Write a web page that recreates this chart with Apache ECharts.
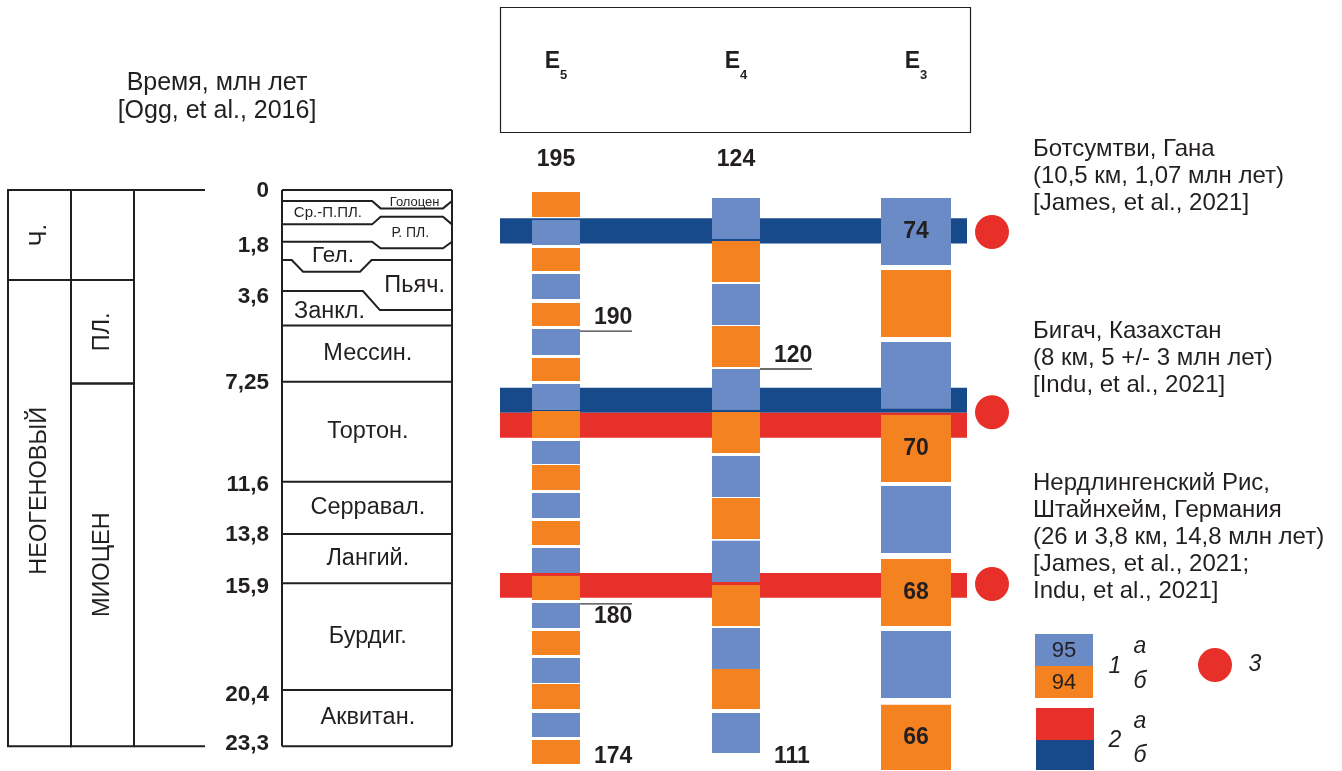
<!DOCTYPE html>
<html lang="ru">
<head>
<meta charset="utf-8">
<title>Хроны E3–E5 и импактные события неогена</title>
<script src="https://cdn.jsdelivr.net/npm/echarts@6.0.0/dist/echarts.min.js"></script>
<style>
  html, body { margin: 0; background: #fff; }
  #chart { width: 1342px; height: 771px; }
</style>
</head>
<body>
<div id="chart"></div>
<script>
// Вертикальная шкала схемы: 0 = кровля (сегодня), 23,3 = подошва аквитана.
// Схема нелинейна по возрасту, поэтому все значения сняты в масштабе рисунка.

// метки возраста, млн лет
const ageTicks = ['0', '1,8', '3,6', '7,25', '11,6', '13,8', '15,9', '20,4', '23,3'];
const ageTickAt = [0.04, 2.33, 4.48, 8.06, 12.34, 14.43, 16.63, 21.14, 23.21];

// системы и отделы
const systemNames = ['Ч.', 'НЕОГЕНОВЫЙ'];
const systemBounds = [0, 3.77, 23.3];
const systemLabelAt = [1.89, 12.6];
const seriesNames = ['', 'ПЛ.', 'МИОЦЕН'];
const seriesBounds = [0, 3.77, 8.11, 23.3];
const seriesLabelAt = [1.89, 5.94, 15.7];

// ярусы: кровля каждого + подошва последнего; stageBends - где граница огибает мелкую подпись
const stageNames = ['Голоцен', 'Ср.-П.ПЛ.', 'Р. ПЛ.', 'Гел.', 'Пьяч.', 'Занкл.', 'Мессин.',
  'Тортон.', 'Серравал.', 'Лангий.', 'Бурдиг.', 'Аквитан.'];
const stageBounds = [0, 0.46, 1.44, 2.17, 2.93, 4.23, 5.68, 8.03, 12.22, 14.41, 16.48, 20.95, 23.3];
const stageBends = [null, 0.77, 1.12, 2.44, 3.42, 5.03, null, null, null, null, null, null, null];
const stageLabelAt = [0.5, 0.96, 1.8, 2.76, 4.02, 5.11, 6.86, 10.13, 13.3, 15.45, 18.7, 22.1];

// хроны в колонках E5, E4, E3 (a - 1а, b - 1б)
const columns = ['E5', 'E4', 'E3'];
const e5From = [0.08, 1.26, 2.43, 3.52, 4.73, 5.82, 7.04, 8.13, 9.26, 10.52, 11.52, 12.69, 13.87,
  15.0, 16.17, 17.3, 18.48, 19.61, 20.7, 21.91, 23.04];
const e5To = [1.13, 2.3, 3.39, 4.57, 5.7, 6.91, 8.0, 9.22, 10.39, 11.48, 12.57, 13.74, 14.87,
  16.05, 17.18, 18.35, 19.48, 20.66, 21.74, 22.92, 24.05];
const e5Kind = 'babababababababababab'.split('');
const e4From = [0.34, 2.14, 3.94, 5.7, 7.5, 9.3, 11.14, 12.9, 14.7, 16.55, 18.35, 20.07, 21.91];
const e4To = [2.05, 3.85, 5.66, 7.42, 9.22, 11.02, 12.86, 14.62, 16.42, 18.27, 20.07, 21.74, 23.59];
const e4Kind = 'ababababababa'.split('');
const e3From = [0.34, 3.35, 6.37, 9.43, 12.4, 15.46, 18.48, 21.57];
const e3To = [3.14, 6.16, 9.17, 12.23, 15.21, 18.27, 21.28, 24.3];
const e3Kind = 'abababab'.split('');
const e3Chrons = ['74', '', '', '70', '', '68', '', '66'];

// номера хронов у колонок
const markText = ['195', '124', '190', '120', '180', '174', '111'];
const markCol = [0, 1, 0, 1, 0, 0, 1];
const markAt = [-1.26, -1.26, 5.91, 7.5, 17.34, 23.75, 23.75];
const markSide = ['top', 'top', 'above', 'above', 'below', 'right', 'right'];

// импактные события (a - 2а, b - 2б) и кратеры (3)
const bandFrom = [1.18, 8.29, 9.33, 16.05];
const bandTo = [2.24, 9.33, 10.38, 17.08];
const bandKind = ['b', 'b', 'a', 'a'];
const craterAt = [1.76, 9.31, 16.51];
const craterText = [
  'Ботсумтви, Гана\n(10,5 км, 1,07 млн лет)\n[James, et al., 2021]',
  'Бигач, Казахстан\n(8 км, 5 +/- 3 млн лет)\n[Indu, et al., 2021]',
  'Нердлингенский Рис,\nШтайнхейм, Германия\n(26 и 3,8 км, 14,8 млн лет)\n[James, et al., 2021;\nIndu, et al., 2021]'
];

const fontFamily = '"Liberation Sans", Arial, Helvetica, sans-serif';
const ink = '#231f20';
const chronColour = { a: '#6b8bc6', b: '#f58220' };
const bandColour = { a: '#e8302a', b: '#174a8b' };
const colWidth = [48, 48, 70];
const font = (size, weight) => (weight || 'normal') + ' ' + size + 'px ' + fontFamily;

// ячейки таблицы систем/отделов
const rankCells = [];
systemNames.forEach((n, i) => rankCells.push({ name: n, value: [0, systemBounds[i], systemBounds[i + 1], systemLabelAt[i]] }));
seriesNames.forEach((n, i) => rankCells.push({ name: n, value: [1, seriesBounds[i], seriesBounds[i + 1], seriesLabelAt[i]] }));

const chronBars = [];
[[e5From, e5To, e5Kind, []], [e4From, e4To, e4Kind, []], [e3From, e3To, e3Kind, e3Chrons]].forEach((c, ci) => {
  c[0].forEach((f, i) => chronBars.push({ value: [ci, f, c[1][i]], kind: c[2][i], label: c[3][i] || '' }));
});

function renderRank(params, api) {
  const cell = rankCells[params.dataIndex];
  const [col, from, to, at] = cell.value;
  const p0 = api.coord([col, from]);
  const p1 = api.coord([col, to]);
  const w = api.size([1, 0])[0];
  const x = p0[0] - w / 2;
  const children = [{
    type: 'rect', shape: { x: x, y: p0[1], width: w, height: p1[1] - p0[1] },
    style: { fill: null, stroke: ink, lineWidth: 2 }
  }];
  if (cell.name) {
    children.push({
      type: 'text', x: p0[0], y: api.coord([col, at])[1], rotation: Math.PI / 2,
      style: { text: cell.name, x: 0, y: 0, align: 'center', verticalAlign: 'middle', font: font(23.5), fill: ink }
    });
  }
  // верх и низ таблицы продолжаются за последнюю колонку
  if (col === 1 && from === 0) {
    children.push({ type: 'line', shape: { x1: x + w, y1: p0[1], x2: x + w + 71, y2: p0[1] }, style: { stroke: ink, lineWidth: 2 } });
  }
  if (col === 1 && to === 23.3) {
    children.push({ type: 'line', shape: { x1: x + w, y1: p1[1], x2: x + w + 71, y2: p1[1] }, style: { stroke: ink, lineWidth: 2 } });
  }
  return { type: 'group', children };
}

const bendShape = { 1: 'right', 2: 'right', 3: 'right', 4: 'left', 5: 'step' };
const stageLabelStyle = {
  0: { fx: 0.78, size: 13 }, 1: { fx: 0.27, size: 15 }, 2: { fx: 0.755, size: 14 },
  3: { fx: 0.3, size: 22.5 }, 4: { fx: 0.78, size: 23.5 }, 5: { fx: 0.28, size: 23.5 }
};

function boundary(i, x0, w, api) {
  const yE = api.coord([0, stageBounds[i]])[1];
  const p = (f, y) => [x0 + f * w, y];
  if (stageBends[i] == null) return [p(0, yE), p(1, yE)];
  const yB = api.coord([0, stageBends[i]])[1];
  if (bendShape[i] === 'right') return [p(0, yE), p(0.53, yE), p(0.58, yB), p(0.947, yB), p(1, yE)];
  if (bendShape[i] === 'left') return [p(0, yE), p(0.057, yE), p(0.124, yB), p(0.459, yB), p(0.527, yE), p(1, yE)];
  return [p(0, yE), p(0.476, yE), p(0.576, yB), p(1, yB)];
}

function renderStage(params, api) {
  const i = params.dataIndex;
  const c = api.coord([0, stageBounds[i]]);
  const w = api.size([1, 0])[0];
  const x0 = c[0] - w / 2;
  const line = { stroke: ink, lineWidth: 2, fill: null };
  const ls = stageLabelStyle[i] || { fx: 0.505, size: 23.5 };
  const children = [
    { type: 'polyline', shape: { points: boundary(i, x0, w, api) }, style: line },
    {
      type: 'text',
      style: {
        text: stageNames[i], x: x0 + ls.fx * w, y: api.coord([0, stageLabelAt[i]])[1],
        align: 'center', verticalAlign: 'middle', font: font(ls.size), fill: ink
      }
    }
  ];
  if (i === stageNames.length - 1) {
    const yTop = api.coord([0, 0])[1];
    const yBase = api.coord([0, stageBounds[i + 1]])[1];
    children.push({ type: 'polyline', shape: { points: boundary(i + 1, x0, w, api) }, style: line });
    children.push({ type: 'line', shape: { x1: x0, y1: yTop, x2: x0, y2: yBase }, style: line });
    children.push({ type: 'line', shape: { x1: x0 + w, y1: yTop, x2: x0 + w, y2: yBase }, style: line });
  }
  return { type: 'group', children };
}

function renderBand(params, api) {
  const p0 = api.coord([0, api.value(1)]);
  const p1 = api.coord([2, api.value(2)]);
  return {
    type: 'rect',
    shape: { x: p0[0] - 56, y: p0[1], width: p1[0] + 51 - (p0[0] - 56), height: p1[1] - p0[1] },
    style: { fill: bandColour[bandKind[params.dataIndex]] }
  };
}

function renderCrater(params, api) {
  const p = api.coord([2, api.value(1)]);
  return { type: 'circle', shape: { cx: p[0] + 76, cy: p[1], r: 17 }, style: { fill: bandColour.a } };
}

function renderChron(params, api) {
  const bar = chronBars[params.dataIndex];
  const c = bar.value[0];
  const p0 = api.coord([c, bar.value[1]]);
  const p1 = api.coord([c, bar.value[2]]);
  const w = colWidth[c];
  const children = [{
    type: 'rect', shape: { x: p0[0] - w / 2, y: p0[1], width: w, height: p1[1] - p0[1] },
    style: { fill: chronColour[bar.kind] }
  }];
  if (bar.label) {
    children.push({
      type: 'text',
      style: { text: bar.label, x: p0[0], y: (p0[1] + p1[1]) / 2, align: 'center', verticalAlign: 'middle', font: font(23, 'bold'), fill: ink }
    });
  }
  return { type: 'group', children };
}

function renderMark(params, api) {
  const i = params.dataIndex;
  const c = markCol[i];
  const p = api.coord([c, markAt[i]]);
  const style = { text: markText[i], font: font(23, 'bold'), fill: ink, verticalAlign: 'middle' };
  if (markSide[i] === 'top') {
    return { type: 'text', style: Object.assign(style, { x: p[0], y: p[1], align: 'center' }) };
  }
  const right = p[0] + colWidth[c] / 2;
  const dy = markSide[i] === 'above' ? -13 : markSide[i] === 'below' ? 13 : 0;
  const children = [{ type: 'text', style: Object.assign(style, { x: right + 14, y: p[1] + dy, align: 'left' }) }];
  if (dy) {
    children.push({ type: 'line', shape: { x1: right, y1: p[1], x2: right + 52, y2: p[1] }, style: { stroke: '#3a3a3a', lineWidth: 1.3 } });
  }
  return { type: 'group', children };
}

const grid = { top: 190, height: 580 };
const yScale = { type: 'value', min: 0, max: 24.3, inverse: true };

const option = {
  animation: false,
  backgroundColor: '#fff',
  textStyle: { fontFamily: fontFamily, color: ink },
  grid: [
    Object.assign({ left: 8, width: 126 }, grid),
    Object.assign({ left: 282, width: 170 }, grid),
    Object.assign({ left: 466, width: 540 }, grid)
  ],
  xAxis: [
    { gridIndex: 0, type: 'category', data: ['система', 'отдел'], show: false },
    { gridIndex: 1, type: 'category', data: ['ярус'], show: false },
    {
      gridIndex: 2, type: 'category', data: columns, position: 'top',
      axisLine: { show: false }, axisTick: { show: false }, splitLine: { show: false },
      axisLabel: {
        interval: 0, margin: 128, verticalAlign: 'middle',
        formatter: (c) => '{e|E}{s|' + c.slice(1) + '}',
        rich: {
          e: { fontSize: 23, fontWeight: 'bold', color: ink, lineHeight: 40, fontFamily: fontFamily },
          s: { fontSize: 13, fontWeight: 'bold', color: ink, lineHeight: 14, verticalAlign: 'bottom', fontFamily: fontFamily }
        }
      }
    }
  ],
  yAxis: [
    Object.assign({ gridIndex: 0, show: false }, yScale),
    Object.assign({
      gridIndex: 1,
      axisLine: { show: false }, axisTick: { show: false }, splitLine: { show: false },
      axisLabel: {
        customValues: ageTickAt, margin: 13, fontSize: 22.5, fontWeight: 'bold', color: ink,
        formatter: (v) => {
          const i = ageTickAt.findIndex((t) => Math.abs(t - v) < 1e-6);
          return i < 0 ? '' : ageTicks[i];
        }
      }
    }, yScale),
    Object.assign({ gridIndex: 2, show: false }, yScale)
  ],
  series: [
    {
      type: 'custom', name: 'ranks', xAxisIndex: 0, yAxisIndex: 0,
      data: rankCells.map((c) => c.value), renderItem: renderRank, silent: true
    },
    {
      type: 'custom', name: 'stages', xAxisIndex: 1, yAxisIndex: 1,
      data: stageNames.map((n, i) => [0, stageBounds[i], stageBounds[i + 1]]), renderItem: renderStage, silent: true
    },
    {
      type: 'custom', name: 'impacts', xAxisIndex: 2, yAxisIndex: 2, z: 1,
      data: bandFrom.map((f, i) => [0, f, bandTo[i]]), renderItem: renderBand, silent: true
    },
    {
      type: 'custom', name: 'craters', xAxisIndex: 2, yAxisIndex: 2, z: 1,
      data: craterAt.map((v) => [2, v]), renderItem: renderCrater, silent: true
    },
    {
      type: 'custom', name: 'chrons', xAxisIndex: 2, yAxisIndex: 2, z: 2,
      data: chronBars.map((b) => b.value), renderItem: renderChron, silent: true
    },
    {
      type: 'custom', name: 'chron numbers', xAxisIndex: 2, yAxisIndex: 2, z: 3,
      data: markAt.map((v, i) => [markCol[i], v]), renderItem: renderMark, silent: true
    }
  ],
  graphic: [
    {
      type: 'text', x: 217, y: 69,
      style: { text: 'Время, млн лет\n[Ogg, et al., 2016]', align: 'center', font: font(25), lineHeight: 28, fill: ink }
    },
    { type: 'rect', shape: { x: 500.5, y: 7.5, width: 470, height: 125 }, style: { fill: null, stroke: ink, lineWidth: 1.2 } },
    { type: 'text', x: 1033, y: 135.5, style: { text: craterText[0], font: font(24), lineHeight: 27, fill: ink } },
    { type: 'text', x: 1033, y: 317.5, style: { text: craterText[1], font: font(24), lineHeight: 27, fill: ink } },
    { type: 'text', x: 1033, y: 469.5, style: { text: craterText[2], font: font(24), lineHeight: 27, fill: ink } },
    // условные обозначения
    { type: 'rect', shape: { x: 1035, y: 634, width: 58, height: 32 }, style: { fill: chronColour.a } },
    { type: 'rect', shape: { x: 1035, y: 666, width: 58, height: 32 }, style: { fill: chronColour.b } },
    { type: 'text', x: 1064, y: 651, style: { text: '95', align: 'center', verticalAlign: 'middle', font: font(22), fill: ink } },
    { type: 'text', x: 1064, y: 683, style: { text: '94', align: 'center', verticalAlign: 'middle', font: font(22), fill: ink } },
    { type: 'text', x: 1115, y: 667, style: { text: '1', align: 'center', verticalAlign: 'middle', font: 'italic ' + font(23), fill: ink } },
    { type: 'text', x: 1140, y: 647, style: { text: 'а', align: 'center', verticalAlign: 'middle', font: 'italic ' + font(23), fill: ink } },
    { type: 'text', x: 1140, y: 682, style: { text: 'б', align: 'center', verticalAlign: 'middle', font: 'italic ' + font(23), fill: ink } },
    { type: 'rect', shape: { x: 1036, y: 708, width: 58, height: 32 }, style: { fill: bandColour.a } },
    { type: 'rect', shape: { x: 1036, y: 740, width: 58, height: 30 }, style: { fill: bandColour.b } },
    { type: 'text', x: 1115, y: 741, style: { text: '2', align: 'center', verticalAlign: 'middle', font: 'italic ' + font(23), fill: ink } },
    { type: 'text', x: 1140, y: 722, style: { text: 'а', align: 'center', verticalAlign: 'middle', font: 'italic ' + font(23), fill: ink } },
    { type: 'text', x: 1140, y: 756, style: { text: 'б', align: 'center', verticalAlign: 'middle', font: 'italic ' + font(23), fill: ink } },
    { type: 'circle', shape: { cx: 1215, cy: 665, r: 17 }, style: { fill: bandColour.a } },
    { type: 'text', x: 1255, y: 665, style: { text: '3', align: 'center', verticalAlign: 'middle', font: 'italic ' + font(23), fill: ink } }
  ]
};

const chart = echarts.init(document.getElementById('chart'));
chart.setOption(option);
window.onresize = () => chart.resize();
</script>
</body>
</html>
